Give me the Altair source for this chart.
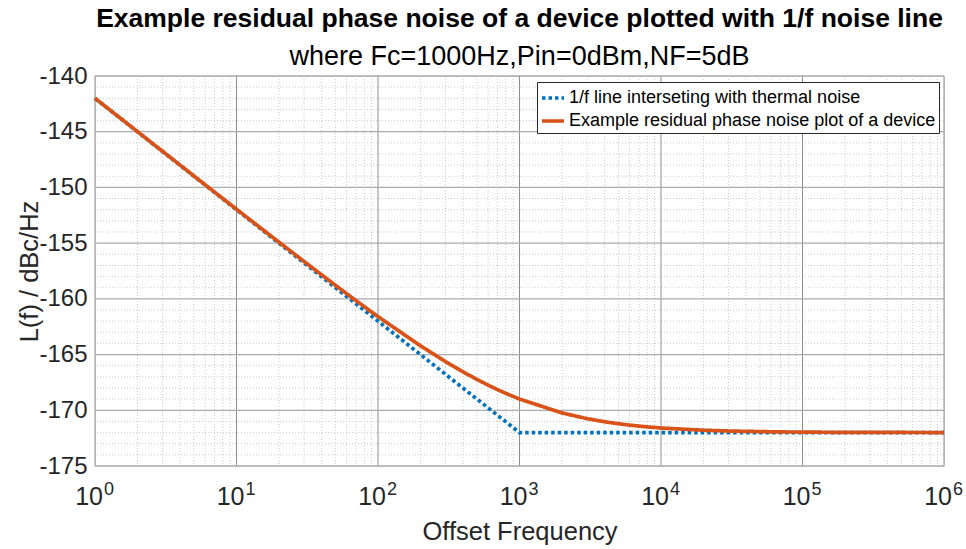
import altair as alt
import pandas as pd

# Offset frequencies (Hz) and single-sideband phase noise (dBc/Hz)
freq_1f = [1, 10, 100, 1000, 1e4, 1e5, 1e6]
noise_1f = [-142.0, -152.0, -162.0, -172.0, -172.0, -172.0, -172.0]

freq_dev = [1, 2, 3, 4, 5, 6, 7, 8, 9,
            10, 20, 30, 40, 50, 60, 70, 80, 90,
            100, 200, 300, 400, 500, 600, 700, 800, 900,
            1000, 2000, 3000, 4000, 5000, 6000, 7000, 8000, 9000,
            1e4, 2e4, 3e4, 4e4, 5e4, 6e4, 7e4, 8e4, 9e4,
            1e5, 2e5, 5e5, 1e6]
noise_dev = [-142.00, -145.00, -146.76, -148.00, -148.97, -149.76, -150.42, -151.00, -151.50,
             -151.96, -154.92, -156.64, -157.85, -158.78, -159.53, -160.16, -160.70, -161.17,
             -161.59, -164.22, -165.63, -166.56, -167.23, -167.74, -168.15, -168.48, -168.75,
             -168.99, -170.24, -170.75, -171.03, -171.21, -171.33, -171.42, -171.49, -171.54,
             -171.59, -171.79, -171.86, -171.89, -171.91, -171.93, -171.94, -171.95, -171.95,
             -171.96, -171.98, -171.99, -172.00]

series_names = ["1/f line interseting with thermal noise",
                "Example residual phase noise plot of a device"]
series_colors = ["#0072BD", "#D95319"]

decades = [1, 10, 100, 1000, 1e4, 1e5, 1e6]
exponents = ["0", "1", "2", "3", "4", "5", "6"]
minor_x = [k * 10 ** d for d in range(6) for k in range(2, 10)]
major_y = [-175, -170, -165, -160, -155, -150, -145, -140]
minor_y = [v for v in range(-175, -139) if v % 5 != 0]

W, H = 849, 390
FONT = "Liberation Sans"
INK = "#262626"

xscale = alt.Scale(type="log", domain=[1, 1e6], nice=False)
yscale = alt.Scale(domain=[-175, -140], nice=False, zero=False)

df = pd.concat([
    pd.DataFrame({"f": freq_1f, "L": noise_1f, "s": series_names[0]}),
    pd.DataFrame({"f": freq_dev, "L": noise_dev, "s": series_names[1]}),
])

x_enc = alt.X("f:Q", scale=xscale,
              axis=alt.Axis(values=decades, labels=False, ticks=False, grid=False,
                            domain=False, title="Offset Frequency",
                            titleFont=FONT, titleFontSize=25.5, titleFontWeight="normal",
                            titleColor=INK, titlePadding=53))

# grid: dotted minor lines, solid major lines
minor_vx = alt.Chart(pd.DataFrame({"f": minor_x})).mark_rule(
    color="#cccccc", strokeWidth=1, strokeDash=[1, 2]).encode(x=x_enc)
minor_hy = alt.Chart(pd.DataFrame({"L": minor_y})).mark_rule(
    color="#cccccc", strokeWidth=1, strokeDash=[1, 2]).encode(
    y=alt.Y("L:Q", scale=yscale))
major_vx = alt.Chart(pd.DataFrame({"f": decades})).mark_rule(
    color="#8f8f8f", strokeWidth=1).encode(x=alt.X("f:Q", scale=xscale))
major_hy = alt.Chart(pd.DataFrame({"L": major_y})).mark_rule(
    color="#ababab", strokeWidth=1.3).encode(y=alt.Y("L:Q", scale=yscale))

legend = alt.Legend(orient="none", legendX=442, legendY=6, title=None,
                    fillColor="white", strokeColor=INK, padding=3,
                    symbolType="stroke", symbolSize=484, symbolStrokeWidth=3.5,
                    labelFont=FONT, labelFontSize=18, labelColor="black",
                    labelLimit=600, labelOffset=3, rowPadding=1)

lines = alt.Chart(df).mark_line(strokeWidth=3.7).encode(
    x=alt.X("f:Q", scale=xscale),
    y=alt.Y("L:Q", scale=yscale,
            axis=alt.Axis(values=major_y, grid=False, ticks=False, domain=False,
                          labelExpr="'' + datum.value",
                          labelFont=FONT, labelFontSize=24, labelColor=INK,
                          labelPadding=8, title="L(f) / dBc/Hz",
                          titleFont=FONT, titleFontSize=25.5, titleFontWeight="normal",
                          titleColor=INK, titleX=-58, titleY=H / 2,
                          titleBaseline="alphabetic")),
    color=alt.Color("s:N", scale=alt.Scale(domain=series_names, range=series_colors),
                    legend=legend),
    strokeDash=alt.StrokeDash("s:N", scale=alt.Scale(domain=series_names,
                                                     range=[[3.5, 3], [1, 0]]),
                              legend=legend),
)

lbl_df = pd.DataFrame({"f": decades, "e": exponents})
base_lbl = alt.Chart(lbl_df).mark_text(
    font=FONT, fontSize=25, align="right", baseline="alphabetic", dx=8, color=INK
).encode(x=alt.X("f:Q", scale=xscale), y=alt.value(H + 39), text=alt.value("10"))
exp_lbl = alt.Chart(lbl_df).mark_text(
    font=FONT, fontSize=18, align="left", baseline="alphabetic", dx=9, color=INK
).encode(x=alt.X("f:Q", scale=xscale), y=alt.value(H + 29), text="e:N")

chart = alt.layer(
    minor_vx, minor_hy, major_vx, major_hy, lines, base_lbl, exp_lbl
).properties(
    width=W, height=H,
    title=alt.TitleParams(
        text="Example residual phase noise of a device plotted with 1/f noise line",
        subtitle="where Fc=1000Hz,Pin=0dBm,NF=5dB",
        font=FONT, fontSize=26.5, fontWeight="bold", color="black",
        subtitleFont=FONT, subtitleFontSize=27, subtitleColor="black",
        subtitlePadding=12, anchor="middle", offset=-6),
    autosize=alt.AutoSizeParams(type="none"),
    padding={"left": 95, "top": 76, "right": 22, "bottom": 83},
).configure_view(
    stroke="#999999", strokeWidth=1
).configure(background="white")

chart.save("out.html", embed_options={"renderer": "svg", "actions": False})
